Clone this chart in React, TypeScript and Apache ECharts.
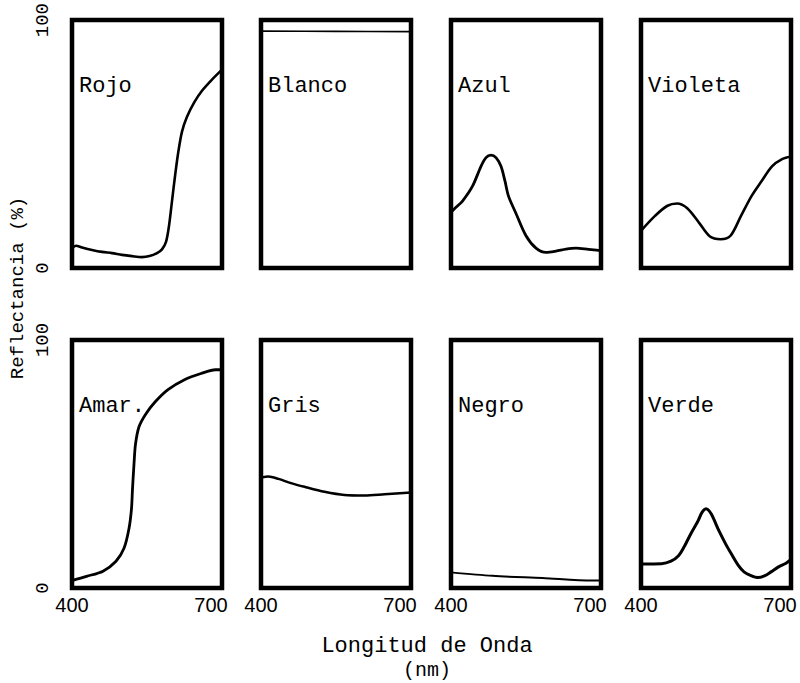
import React, { useEffect, useRef } from "react";
import * as echarts from "echarts";

// ---- data ----
const panelNames = ["Rojo", "Blanco", "Azul", "Violeta", "Amar.", "Gris", "Negro", "Verde"];
const xTickValues = [400, 700];
const yTickValues = [0, 100];

const rojo = [[400, 8], [408, 9], [420, 8.3], [440, 7.3], [460, 6.5], [480, 6], [500, 5.3], [520, 4.8], [540, 4.4], [555, 4.8], [570, 6], [580, 7.5], [588, 10.5], [594, 17], [600, 27], [606, 37], [612, 46], [620, 55], [630, 61], [645, 67], [660, 71.5], [680, 76], [700, 80]];
const blanco = [[400, 95.5], [550, 95.4], [700, 95.3]];
const azul = [[400, 22.5], [410, 24.5], [423, 27], [443, 33], [460, 41], [470, 44.5], [480, 45.5], [490, 44.5], [500, 41], [508, 35], [515, 29], [530, 22], [550, 13], [570, 8], [590, 6.3], [610, 6.8], [630, 7.6], [650, 8], [675, 7.5], [700, 7]];
const violeta = [[400, 15], [428, 21], [452, 25], [472, 26], [493, 24], [517, 18], [538, 12.7], [559, 11.6], [579, 13], [600, 21], [621, 29], [641, 35], [662, 41], [683, 44], [700, 45]];
const amar = [[400, 3], [429, 4.7], [462, 6.8], [488, 10.8], [504, 16], [514, 24], [519, 32], [521, 40], [524, 50], [527, 58], [534, 65], [547, 70], [566, 75], [592, 80], [625, 84], [658, 86.5], [687, 88], [700, 88]];
const gris = [[400, 44.5], [415, 45], [435, 44], [460, 42.3], [487, 40.8], [527, 38.8], [567, 37.5], [607, 37.3], [647, 37.8], [700, 38.5]];
const negro = [[400, 6.3], [483, 4.9], [583, 4], [683, 3], [700, 3]];
const verde = [[400, 9.7], [441, 9.8], [460, 10.8], [475, 13], [486, 16.5], [500, 22], [514, 27], [522, 30.5], [530, 32], [540, 30], [556, 23], [570, 17.5], [580, 14], [595, 9], [606, 6.5], [620, 5], [634, 4.2], [648, 5], [660, 6.5], [675, 8.5], [690, 10], [700, 11.5]];

const seriesData = [rojo, blanco, azul, violeta, amar, gris, negro, verde];
const xAxisTitle = "Longitud de Onda";
const xAxisUnit = "(nm)";
const yAxisTitle = "Reflectancia (%)";

// ---- layout / style ----
const colLefts = [72, 261, 451, 641];
const rowTops = [20, 340];
const panelW = 150;
const panelH = 248;
const lineWidths = [2.6, 1.6, 2.8, 2.6, 2.8, 2.5, 2, 3];
const MONO = '"Liberation Mono", "Courier New", monospace';
const SANS = '"Liberation Sans", Arial, sans-serif';

export default function App() {
  const ref = useRef<HTMLDivElement>(null);
  useEffect(() => {
    document.body.style.margin = "0";
    if (!ref.current) return;
    const chart = echarts.init(ref.current, undefined, { renderer: "svg" });
    const grids: any[] = [];
    const xAxes: any[] = [];
    const yAxes: any[] = [];
    const series: any[] = [];
    const graphics: any[] = [];
    panelNames.forEach((name, i) => {
      const row = Math.floor(i / 4);
      const col = i % 4;
      grids.push({
        left: colLefts[col],
        top: rowTops[row],
        width: panelW,
        height: panelH,
        show: true,
        borderColor: "#000",
        borderWidth: 4.5,
        backgroundColor: "transparent",
      });
      xAxes.push({
        type: "value",
        gridIndex: i,
        min: 400,
        max: 700,
        axisLine: { show: false },
        axisTick: { show: false },
        splitLine: { show: false },
        axisLabel: {
          show: row === 1,
          customValues: xTickValues,
          margin: 7,
          color: "#000",
          fontFamily: SANS,
          fontSize: 20,
          formatter: (v: number) => (v === 700 ? "{r|" + v + "}" : "{l|" + v + "}"),
          rich: {
            l: { fontFamily: SANS, fontSize: 20, color: "#000", padding: [0, 0, 0, 0] },
            r: { fontFamily: SANS, fontSize: 20, color: "#000", padding: [0, 22, 0, 0] },
          },
        },
      });
      yAxes.push({
        type: "value",
        gridIndex: i,
        min: 0,
        max: 100,
        axisLine: { show: false },
        axisTick: { show: false },
        splitLine: { show: false },
        axisLabel: {
          show: col === 0,
          customValues: yTickValues,
          rotate: 90,
          margin: 20,
          color: "#000",
          fontFamily: MONO,
          fontSize: 19,
        },
      });
      series.push({
        type: "line",
        xAxisIndex: i,
        yAxisIndex: i,
        data: seriesData[i],
        smooth: 0.3,
        showSymbol: false,
        symbol: "none",
        lineStyle: { color: "#000", width: lineWidths[i] },
        z: 1,
      });
      graphics.push({
        type: "text",
        x: colLefts[col] + 7,
        y: rowTops[row] + 66,
        style: {
          text: name,
          fill: "#000",
          font: `22px ${MONO}`,
          textAlign: "left",
          textVerticalAlign: "middle",
        },
        z: 10,
      });
    });
    graphics.push({
      type: "text",
      x: 427,
      y: 646,
      style: { text: xAxisTitle, fill: "#000", font: `22px ${MONO}`, textAlign: "center", textVerticalAlign: "middle" },
    });
    graphics.push({
      type: "text",
      x: 427,
      y: 670,
      style: { text: xAxisUnit, fill: "#000", font: `20px ${MONO}`, textAlign: "center", textVerticalAlign: "middle" },
    });
    graphics.push({
      type: "text",
      x: 18,
      y: 288,
      rotation: Math.PI / 2,
      style: { text: yAxisTitle, fill: "#000", font: `19px ${MONO}`, textAlign: "center", textVerticalAlign: "middle" },
    });
    chart.setOption({
      animation: false,
      backgroundColor: "#fff",
      grid: grids,
      xAxis: xAxes,
      yAxis: yAxes,
      series,
      graphic: graphics,
    });
    return () => chart.dispose();
  }, []);
  return <div ref={ref} style={{ width: 800, height: 683 }} />;
}
